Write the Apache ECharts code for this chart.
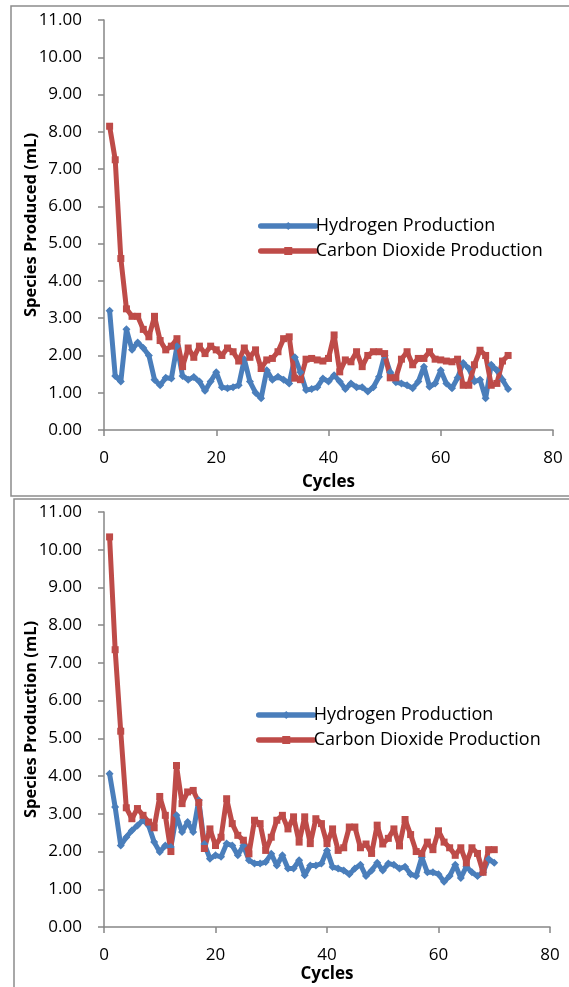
<!DOCTYPE html>
<html>
<head>
<meta charset="utf-8">
<script src="https://cdn.jsdelivr.net/npm/echarts@6/dist/echarts.min.js"></script>
<style>
  html, body { margin: 0; padding: 0; background: #fff; }
  #chart { width: 569px; height: 987px; }
</style>
</head>
<body>
<div id="chart"></div>
<script>
// values (cycle number = position + 1)
const h2Top = [3.2, 1.45, 1.3, 2.7, 2.15, 2.35, 2.2, 2.0, 1.35, 1.2,
  1.4, 1.38, 2.25, 1.45, 1.35, 1.42, 1.3, 1.05, 1.3, 1.55,
  1.15, 1.12, 1.15, 1.2, 1.9, 1.3, 1.0, 0.85, 1.6, 1.35,
  1.43, 1.35, 1.25, 1.95, 1.55, 1.07, 1.1, 1.15, 1.38, 1.3,
  1.47, 1.3, 1.1, 1.25, 1.15, 1.15, 1.03, 1.15, 1.43, 2.0,
  1.55, 1.28, 1.25, 1.2, 1.12, 1.3, 1.7, 1.16, 1.25, 1.6,
  1.25, 1.12, 1.4, 1.8, 1.65, 1.3, 1.35, 0.85, 1.75, 1.6,
  1.35, 1.1]
const co2Top = [8.15, 7.25, 4.6, 3.25, 3.05, 3.05, 2.7, 2.5, 3.05, 2.4,
  2.15, 2.25, 2.45, 1.7, 2.2, 1.95, 2.25, 2.05, 2.25, 2.15,
  2.0, 2.2, 2.1, 1.85, 2.2, 1.95, 2.15, 1.65, 1.88, 1.92,
  2.1, 2.45, 2.5, 1.39, 1.35, 1.9, 1.92, 1.88, 1.85, 1.92,
  2.55, 1.56, 1.88, 1.83, 2.1, 1.7, 2.0, 2.1, 2.1, 2.05,
  1.4, 1.4, 1.9, 2.1, 1.75, 1.92, 1.92, 2.1, 1.9, 1.88,
  1.85, 1.83, 1.9, 1.2, 1.2, 1.75, 2.14, 2.0, 1.2, 1.25,
  1.85, 2.0]
const h2Bottom = [4.06, 3.18, 2.16, 2.38, 2.56, 2.69, 2.83, 2.69, 2.25, 1.99,
  2.16, 2.12, 2.96, 2.52, 2.78, 2.52, 3.36, 2.2, 1.81, 1.9,
  1.86, 2.21, 2.16, 1.9, 2.16, 1.77, 1.68, 1.68, 1.72, 1.94,
  1.63, 1.9, 1.55, 1.55, 1.77, 1.37, 1.63, 1.63, 1.68, 2.03,
  1.59, 1.55, 1.5, 1.4, 1.55, 1.65, 1.35, 1.5, 1.7, 1.5,
  1.68, 1.65, 1.55, 1.6, 1.4, 1.35, 1.85, 1.45, 1.45, 1.4,
  1.2, 1.35, 1.65, 1.3, 1.6, 1.45, 1.35, 1.45, 1.8, 1.7]
const co2Bottom = [10.34, 7.35, 5.19, 3.16, 2.87, 3.14, 2.96, 2.78, 2.63, 3.46,
  2.96, 2.0, 4.28, 3.27, 3.58, 3.62, 3.3, 2.08, 2.6, 2.16,
  2.38, 3.4, 2.74, 2.43, 2.3, 1.94, 2.83, 2.74, 2.03, 2.38,
  2.83, 2.96, 2.6, 2.92, 2.25, 2.92, 2.21, 2.87, 2.74, 2.21,
  2.6, 2.03, 2.1, 2.65, 2.65, 2.1, 2.2, 1.95, 2.7, 2.2,
  2.35, 2.6, 2.15, 2.85, 2.45, 2.0, 1.95, 2.25, 2.05, 2.55,
  2.25, 2.1, 1.9, 2.1, 1.7, 2.1, 1.95, 1.45, 2.05, 2.05]

const seriesNames = ['Hydrogen Production', 'Carbon Dioxide Production']
const yTitles = ['Species Produced (mL)', 'Species Production (mL)']
const xTitle = 'Cycles'

const BLUE = '#4a7ebb'
const RED = '#be4b48'
const AXIS = '#868686'
const FONT = 'Open Sans'

let chart = echarts.init(document.getElementById('chart'))

function pairs(arr) {
  return arr.map(function (v, i) { return [i + 1, v] })
}

function xAxisFor(idx, gap) {
  return {
    type: 'value', gridIndex: idx, min: 0, max: 80, interval: 20,
    name: xTitle, nameLocation: 'middle', nameGap: gap,
    nameTextStyle: { fontFamily: FONT, fontWeight: 'bold', fontSize: 17, color: '#000' },
    axisLine: { lineStyle: { color: AXIS, width: 1.5 } },
    axisTick: { show: true, length: 6, lineStyle: { color: AXIS, width: 1.5 } },
    axisLabel: { margin: 20, fontFamily: FONT, fontSize: 17, color: '#000' },
    splitLine: { show: false }
  }
}

function yAxisFor(idx) {
  return {
    type: 'value', gridIndex: idx, min: 0, max: 11, interval: 1,
    name: yTitles[idx], nameLocation: 'middle', nameGap: 64, nameRotate: 90,
    nameMoveOverlap: false,
    nameTextStyle: { fontFamily: FONT, fontWeight: 'bold', fontSize: 16.5, color: '#000' },
    axisLine: { show: true, lineStyle: { color: AXIS, width: 1.5 } },
    axisTick: { show: true, length: 6, lineStyle: { color: AXIS, width: 1.5 } },
    axisLabel: {
      margin: 22, fontFamily: FONT, fontSize: 17, color: '#000',
      formatter: function (v) { return v.toFixed(2) }
    },
    splitLine: { show: false }
  }
}

function lineSeries(name, data, idx, color, symbol, size) {
  return {
    name: name, type: 'line', xAxisIndex: idx, yAxisIndex: idx,
    data: pairs(data),
    symbol: symbol, symbolSize: size, showSymbol: true,
    itemStyle: { color: color },
    lineStyle: { color: color, width: 5, join: 'round', cap: 'round' },
    emphasis: { disabled: true }
  }
}

function legendAt(left, top) {
  return {
    data: seriesNames, orient: 'vertical', left: left, top: top,
    itemWidth: 55, itemHeight: 10, itemGap: 7,
    lineStyle: { width: 5.5, cap: 'round' },
    textStyle: { fontFamily: FONT, fontSize: 18, color: '#000', padding: [0, 0, 0, -5] }
  }
}

let options = {
  animation: false,
  backgroundColor: '#fff',
  textStyle: { fontFamily: FONT },
  graphic: [
    { type: 'rect', shape: { x: 11, y: 6, width: 600, height: 490 },
      style: { fill: 'none', stroke: '#8c8c8c', lineWidth: 1.5 }, z: -1 },
    { type: 'rect', shape: { x: 14, y: 499, width: 600, height: 520 },
      style: { fill: 'none', stroke: '#8c8c8c', lineWidth: 1.5 }, z: -1 }
  ],
  grid: [
    { left: 104, top: 20, width: 449, height: 410 },
    { left: 104, top: 512, width: 446, height: 415 }
  ],
  legend: [legendAt(253, 212), legendAt(251, 701)],
  xAxis: [xAxisFor(0, 44), xAxisFor(1, 39)],
  yAxis: [yAxisFor(0), yAxisFor(1)],
  series: [
    lineSeries(seriesNames[0], h2Top, 0, BLUE, 'diamond', 8),
    lineSeries(seriesNames[1], co2Top, 0, RED, 'rect', 7),
    lineSeries(seriesNames[0], h2Bottom, 1, BLUE, 'diamond', 8),
    lineSeries(seriesNames[1], co2Bottom, 1, RED, 'rect', 7)
  ]
}

chart.setOption(options)
</script>
</body>
</html>
